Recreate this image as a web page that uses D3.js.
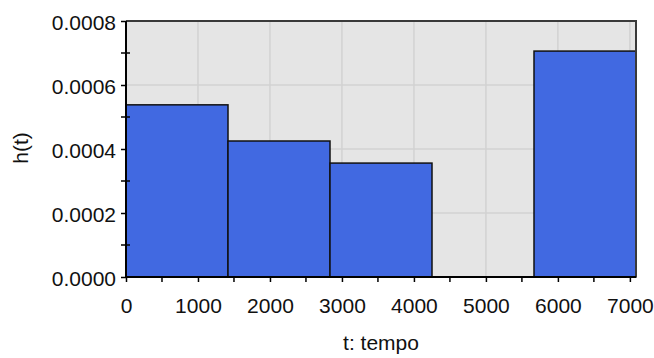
<!DOCTYPE html>
<html>
<head>
<meta charset="utf-8">
<script src="https://cdn.jsdelivr.net/npm/d3@7"></script>
<style>
  html, body { margin: 0; padding: 0; background: #ffffff; }
  svg { display: block; }
  text { font-family: Arial, "Liberation Sans", sans-serif; fill: #111111; }
</style>
</head>
<body>
<svg id="chart" width="654" height="358"></svg>
<script>
// Piecewise-constant hazard estimate h(t) over equal-width time intervals
const binStart = [0, 1417, 2834, 4251, 5668];
const binEnd   = [1417, 2834, 4251, 5668, 7085];
const hazard   = [0.000538, 0.000425, 0.000356, 0, 0.000706];

const xTickValues = [0, 1000, 2000, 3000, 4000, 5000, 6000, 7000];
const yTickValues = [0, 0.0002, 0.0004, 0.0006, 0.0008];
const xMinorTicks = [500, 1500, 2500, 3500, 4500, 5500, 6500];
const yMinorTicks = [0.0001, 0.0003, 0.0005, 0.0007];

const xLabel = "t: tempo";
const yLabel = "h(t)";

const W = 654, H = 358;
const plot = { left: 126, right: 636, top: 21, bottom: 277 };

const x = d3.scaleLinear().domain([0, 7085]).range([plot.left, plot.right]);
const y = d3.scaleLinear().domain([0, 0.0008]).range([plot.bottom, plot.top]);

const svg = d3.select("#chart");

// panel background
svg.append("rect")
  .attr("x", plot.left).attr("y", plot.top)
  .attr("width", plot.right - plot.left).attr("height", plot.bottom - plot.top)
  .attr("fill", "#e5e5e5");

// grid lines
const grid = svg.append("g").attr("stroke", "#d2d2d2").attr("stroke-width", 1.5);
grid.selectAll("line.vx").data(xTickValues.filter(v => v > 0)).join("line")
  .attr("x1", d => x(d)).attr("x2", d => x(d))
  .attr("y1", plot.top).attr("y2", plot.bottom);
grid.selectAll("line.hy").data(yTickValues.filter(v => v > 0)).join("line")
  .attr("x1", plot.left).attr("x2", plot.right)
  .attr("y1", d => y(d)).attr("y2", d => y(d));

// bars
const bins = binStart.map((s, i) => ({ s, e: binEnd[i], h: hazard[i] }));
svg.append("g").selectAll("rect").data(bins.filter(d => d.h > 0)).join("rect")
  .attr("x", d => x(d.s))
  .attr("y", d => y(d.h))
  .attr("width", d => x(d.e) - x(d.s))
  .attr("height", d => y(0) - y(d.h))
  .attr("fill", "#4169e1")
  .attr("stroke", "#111111")
  .attr("stroke-width", 1.5);

// frame: top and right
svg.append("path")
  .attr("d", `M${plot.left},${plot.top}H${plot.right}V${plot.bottom}`)
  .attr("fill", "none").attr("stroke", "#3a3a3a").attr("stroke-width", 2);

// x axis
const xAxis = d3.axisBottom(x).tickValues(xTickValues).tickSize(5).tickPadding(16)
  .tickFormat(d3.format("d"));
const gx = svg.append("g").attr("transform", `translate(0,${plot.bottom})`).call(xAxis);
gx.select(".domain").remove();
gx.selectAll(".tick line").attr("stroke", "#000").attr("stroke-width", 1.5);
gx.selectAll(".tick text").attr("font-size", 21).attr("fill", "#111111")
  .attr("font-family", "Arial, 'Liberation Sans', sans-serif");
gx.append("g").selectAll("line").data(xMinorTicks).join("line")
  .attr("x1", d => x(d)).attr("x2", d => x(d))
  .attr("y1", 0).attr("y2", 5)
  .attr("stroke", "#000").attr("stroke-width", 1.5);

// y axis
const yAxis = d3.axisLeft(y).tickValues(yTickValues).tickSize(5).tickPadding(5)
  .tickFormat(d3.format(".4f"));
const gy = svg.append("g").attr("transform", `translate(${plot.left},0)`).call(yAxis);
gy.select(".domain").remove();
gy.selectAll(".tick line").attr("stroke", "#000").attr("stroke-width", 1.5);
gy.selectAll(".tick text").attr("font-size", 21).attr("fill", "#111111")
  .attr("font-family", "Arial, 'Liberation Sans', sans-serif").attr("dy", "0.4em");
gy.append("g").selectAll("line").data(yMinorTicks).join("line")
  .attr("x1", -5).attr("x2", 4)
  .attr("y1", d => y(d)).attr("y2", d => y(d))
  .attr("stroke", "#000").attr("stroke-width", 1.5);

// axis lines: left and bottom
svg.append("path")
  .attr("d", `M${plot.left},${plot.top}V${plot.bottom}H${plot.right}`)
  .attr("fill", "none").attr("stroke", "#000").attr("stroke-width", 2);

// axis titles
svg.append("text")
  .attr("x", (plot.left + plot.right) / 2).attr("y", 350)
  .attr("text-anchor", "middle").attr("font-size", 21)
  .text(xLabel);
svg.append("text")
  .attr("transform", `translate(28,${(plot.top + plot.bottom) / 2 - 1}) rotate(-90)`)
  .attr("text-anchor", "middle").attr("font-size", 21)
  .text(yLabel);
</script>
</body>
</html>
